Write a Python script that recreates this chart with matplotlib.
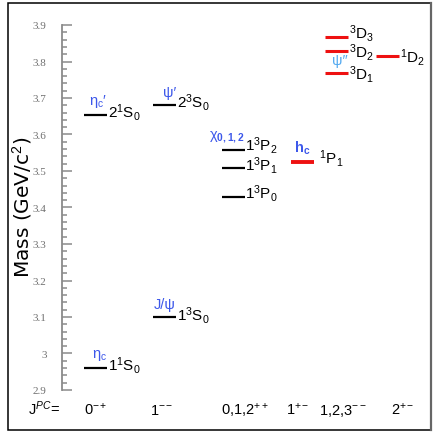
import matplotlib
matplotlib.use('Agg')
import matplotlib.pyplot as plt
from matplotlib.patches import Rectangle
from matplotlib.lines import Line2D
from matplotlib.ticker import MultipleLocator, FuncFormatter

plt.rcParams['font.family'] = ['Liberation Sans', 'DejaVu Sans']
plt.rcParams['mathtext.fontset'] = 'custom'
plt.rcParams['mathtext.rm'] = 'Liberation Sans'
plt.rcParams['mathtext.it'] = 'Liberation Sans:italic'
plt.rcParams['mathtext.bf'] = 'Liberation Sans:bold'
plt.rcParams['mathtext.sf'] = 'Liberation Sans'

# ---------------- data ----------------
spectro = [r'$1^1\mathrm{S}_0$', r'$1^3\mathrm{S}_0$', r'$2^1\mathrm{S}_0$', r'$2^3\mathrm{S}_0$',
           r'$1^3\mathrm{P}_0$', r'$1^3\mathrm{P}_1$', r'$1^3\mathrm{P}_2$', r'$\ ^1\mathrm{P}_1$',
           r'$^3\mathrm{D}_1$', r'$^3\mathrm{D}_2$', r'$^3\mathrm{D}_3$', r'$^1\mathrm{D}_2$']
masses = [2.960, 3.100, 3.653, 3.680, 3.428, 3.507, 3.557, 3.526, 3.768, 3.828, 3.866, 3.814]
jpc_group = [0, 1, 0, 1, 2, 2, 2, 3, 4, 4, 4, 5]
is_new = [False, False, False, False, False, False, False, True, True, True, True, True]
names = {0: r'η$_\mathrm{c}$', 1: r'J/ψ', 2: r"η$_\mathrm{c}$′", 3: r"ψ′",
         6: r'χ$_{\mathbf{0,1,2}}$', 7: r'h$_{\mathbf{c}}$', 8: r"ψ″"}
name_colors = {8: '#55aaf0'}
jpc_labels = [r'0$^{-+}$', r'1$^{--}$', r'0,1,2$^{++}$', r'1$^{+-}$', r'1,2,3$^{--}$', r'2$^{+-}$']

# ---------------- layout (pixels relative to mass axis) ----------------
W, H = 436, 439
ax_left, ax_right, y_top, y_bot = 62, 431, 26, 391
col_x = [33.5, 102.5, 171, 240.5, 274.5, 325.5]
jpc_x = [34, 100, 183, 236, 281, 341]
half = 11.5
label_dy = [-2, -3, -1, -1, 0, -1, 1, -1, 'c', 'c', 0, 'c']

fig = plt.figure(figsize=(W / 100, H / 100), dpi=100)
ax = fig.add_axes([ax_left / W, (H - y_bot) / H, (ax_right - ax_left) / W, (y_bot - y_top) / H])
ax.set_xlim(0, ax_right - ax_left)
ax.set_ylim(2.9, 3.9)
ax.patch.set_alpha(0)

for s in ['top', 'right', 'bottom']:
    ax.spines[s].set_visible(False)
ax.spines['left'].set_color('#8a8a8a')
ax.spines['left'].set_linewidth(1.3)

ax.yaxis.set_major_locator(MultipleLocator(0.1))
ax.yaxis.set_minor_locator(MultipleLocator(0.02))
ax.yaxis.set_major_formatter(FuncFormatter(lambda v, p: '%g' % round(v, 2)))
ax.tick_params(axis='y', which='both', direction='in', color='#8a8a8a', width=1.1,
               labelcolor='#707070', labelsize=8, pad=11)
ax.tick_params(axis='y', which='major', length=7.2)
ax.tick_params(axis='y', which='minor', length=3.6)
for lab in ax.get_yticklabels():
    lab.set_fontfamily('Liberation Serif')

ax.set_xticks(jpc_x)
ax.set_xticklabels(jpc_labels)
ax.tick_params(axis='x', length=0, labelsize=10.5, pad=17)
for lab in ax.get_xticklabels():
    lab.set_va('baseline')

# levels
for i, m in enumerate(masses):
    cx = col_x[jpc_group[i]]
    color = '#ee1111' if is_new[i] else 'black'
    lw = 2.2 if is_new[i] else 1.6
    if i == 7:
        lw = 2.8
    ax.plot([cx - half, cx + half], [m, m], color=color, lw=lw, solid_capstyle='butt')
    dy = label_dy[i]
    if dy == 'c':
        ax.annotate(spectro[i], (cx + half, m), xytext=(0.5, 0), textcoords='offset pixels',
                    ha='left', va='center', fontsize=11)
    else:
        ax.annotate(spectro[i], (cx + half, m), xytext=(0.5, dy), textcoords='offset pixels',
                    ha='left', va='baseline', fontsize=11)
    if i in names:
        dx = -4 if i == 7 else 0
        ax.annotate(names[i], (cx + half, m), xytext=(dx, 6), textcoords='offset pixels',
                    ha='right', va='bottom', fontsize=10.5, color=name_colors.get(i, '#3d58ea'),
                    fontweight='bold' if i == 7 else 'normal')

ax.set_ylabel(r'Mass (GeV/c$^2$)', fontsize=14.5, va='center', family='DejaVu Sans')
ax.yaxis.set_label_coords((22 - ax_left) / (ax_right - ax_left), (y_bot - 207) / (y_bot - y_top))

fig.text(28 / W, 1 - 415 / H, r'J$^{PC}$=', ha='left', va='baseline', fontsize=10.5)

# frame
fig.patches.append(Rectangle((7.5 / W, 1 - 430.5 / H), 423 / W, 427 / H, transform=fig.transFigure,
                             fill=False, edgecolor='black', lw=1.1))
fig.lines.append(Line2D([430.5 / W, 430.5 / W], [1 - 430.5 / H, 1 - 3.5 / H], transform=fig.transFigure,
                        color='#666666', lw=1.6))

fig.savefig('out.png', dpi=100)
